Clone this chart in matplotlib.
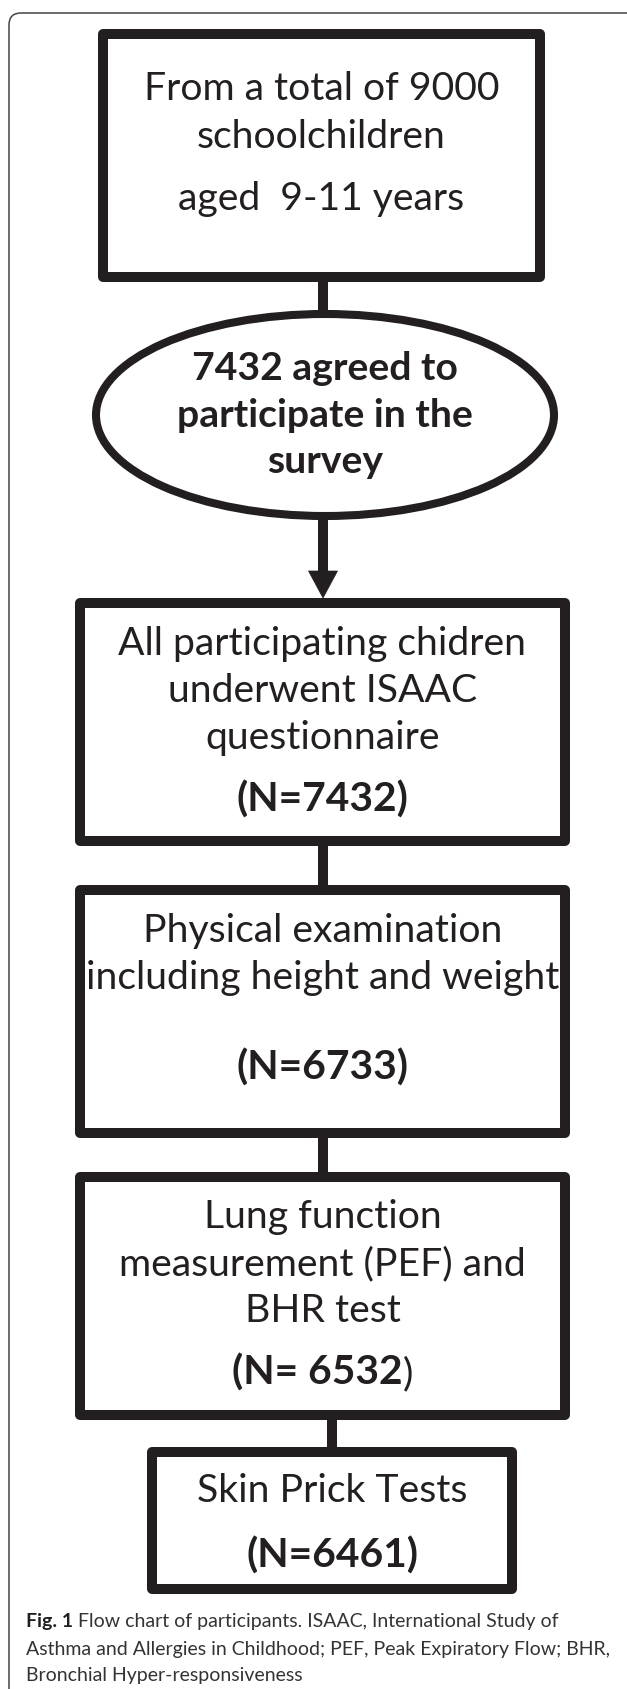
import matplotlib
matplotlib.use("Agg")
import matplotlib.pyplot as plt
from matplotlib.patches import Rectangle, Ellipse, FancyBboxPatch, Polygon

W, H = 627, 1689
INK = '#231f20'
FONT = ['Lato', 'DejaVu Sans']

# texts of the flow chart, top to bottom
start_lines = ['From a total of 9000', 'schoolchildren', 'aged  9-11 years']
agreed_lines = ['7432 agreed to', 'participate in the', 'survey']
step_lines = [
    ['All participating chidren', 'underwent ISAAC', 'questionnaire'],
    ['Physical examination', 'including height and weight'],
    ['Lung function', 'measurement (PEF) and', 'BHR test'],
    ['Skin Prick Tests'],
]
step_n = ['(N=7432)', '(N=6733)', '(N= 6532', '(N=6461)']
step_n_tail = ['', '', ')', '']
caption_head = 'Fig. 1'
caption_lines = ['Flow chart of participants. ISAAC, International Study of',
                 'Asthma and Allergies in Childhood; PEF, Peak Expiratory Flow; BHR,',
                 'Bronchial Hyper-responsiveness']

# layout in pixels (box outlines drawn on their centre line)
start_box = (103, 34, 540, 277)
start_base = [100, 148, 210]
ell_c, ell_w, ell_h = (325, 415), 458, 202
ell_base = [380, 427, 473]
boxes = [(80, 603, 565, 841), (80, 890, 565, 1133), (80, 1177, 565, 1415), (152, 1452, 512, 1589)]
line_base = [[655, 702, 749], [942, 989], [1228, 1275, 1322], [1502]]
n_base = [812, 1080, 1385, 1568]
cap_base = [1627, 1655, 1681]

LW = 7.2      # 10 px at 100 dpi
FS = 28.2
FS_B = 29.3
FS_E = 28.2

fig = plt.figure(figsize=(W / 100, H / 100), dpi=100)
ax = fig.add_axes([0, 0, 1, 1])
ax.set_xlim(0, W)
ax.set_ylim(H, 0)
ax.axis('off')

# outer frame, open to the right and bottom
ax.add_patch(FancyBboxPatch((9, 13), 630, 1700, boxstyle='round,pad=0,rounding_size=12',
                            fill=False, ec='#444444', lw=1.1))


def box(b):
    x0, y0, x1, y1 = b
    ax.add_patch(Rectangle((x0, y0), x1 - x0, y1 - y0, fill=False, ec=INK, lw=LW,
                           joinstyle='round'))


def vline(x, y0, y1):
    ax.plot([x, x], [y0, y1], color=INK, lw=LW, solid_capstyle='butt')


box(start_box)
cx = (start_box[0] + start_box[2]) / 2
for s, yb in zip(start_lines, start_base):
    ax.text(cx, yb, s, ha='center', va='baseline', fontsize=FS, family=FONT, color=INK)

vline(323, start_box[3] + 5, ell_c[1] - ell_h / 2)
ax.add_patch(Ellipse(ell_c, ell_w, ell_h, fill=False, ec=INK, lw=5.8))
for s, yb in zip(agreed_lines, ell_base):
    ax.text(ell_c[0], yb, s, ha='center', va='baseline', fontsize=FS_E, family=FONT,
            fontweight='bold', color=INK)

# arrow down to the first step
vline(323, ell_c[1] + ell_h / 2, 573)
ax.add_patch(Polygon([(308.5, 571), (337.5, 571), (323, 598)], closed=True, fc=INK, ec=INK, lw=0.5))

fig.canvas.draw()
r = fig.canvas.get_renderer()

for i, b in enumerate(boxes):
    box(b)
    bx = (b[0] + b[2]) / 2
    for s, yb in zip(step_lines[i], line_base[i]):
        ax.text(bx, yb, s, ha='center', va='baseline', fontsize=FS, family=FONT, color=INK)
    head = ax.text(bx, n_base[i], step_n[i], ha='center', va='baseline', fontsize=FS_B,
                   family=FONT, fontweight='bold', color=INK)
    if step_n_tail[i]:
        tail = ax.text(0, n_base[i], step_n_tail[i], ha='left', va='baseline', fontsize=FS,
                       family=FONT, color=INK)
        wh = head.get_window_extent(r).width
        wt = tail.get_window_extent(r).width
        head.set_ha('left')
        head.set_x(bx - (wh + wt) / 2)
        tail.set_x(bx - (wh + wt) / 2 + wh)
    if i < len(boxes) - 1:
        nb = boxes[i + 1]
        vline((nb[0] + nb[2]) / 2, b[3] + 5, nb[1] - 5)

# caption
CFS = 14
CAP = '#333333'
t = ax.text(26, cap_base[0], caption_head, ha='left', va='baseline', fontsize=CFS,
            family=FONT, fontweight='bold', color=INK)
wf = t.get_window_extent(r).width
ax.text(26 + wf + 5, cap_base[0], caption_lines[0], ha='left', va='baseline', fontsize=CFS,
        family=FONT, color=CAP)
for s, yb in zip(caption_lines[1:], cap_base[1:]):
    ax.text(26, yb, s, ha='left', va='baseline', fontsize=CFS, family=FONT, color=CAP)

fig.savefig('out.png', dpi=100, facecolor='white')
